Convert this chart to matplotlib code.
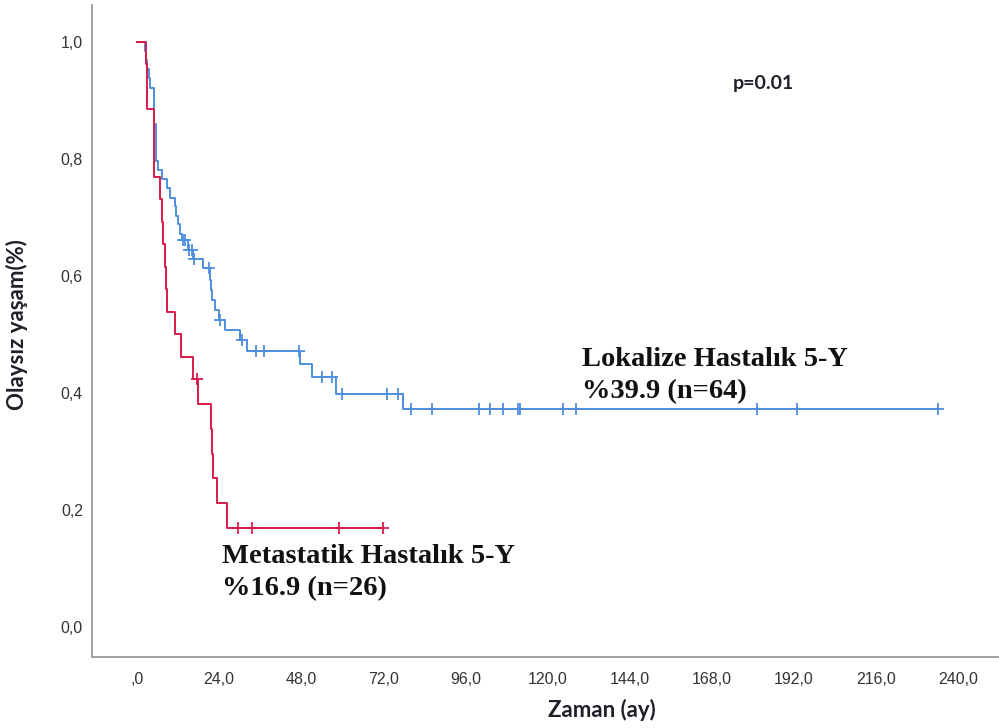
import matplotlib
matplotlib.use("Agg")
import matplotlib.pyplot as plt
import numpy as np

# ---------------- data ----------------
# Lokalize Hastalik (blue): step times (months) and survival after each step
blue_times = [0, 2.2, 2.6, 3.0, 3.4, 3.8, 5.0, 5.4, 6.2, 7.2, 8.7, 9.6, 11.1, 11.5,
              12.0, 12.6, 13.0, 15.0, 16.3, 19.4, 21.3, 21.6, 21.8, 22.8, 23.8,
              25.7, 30.1, 32.1, 47.5, 51.2, 58.2, 77.7]
blue_surv = [1.0, 0.984, 0.969, 0.953, 0.938, 0.922, 0.859, 0.797, 0.781, 0.766,
             0.750, 0.734, 0.719, 0.703, 0.688, 0.672, 0.661, 0.645, 0.629, 0.613,
             0.593, 0.576, 0.559, 0.542, 0.525, 0.508, 0.491, 0.472, 0.450, 0.428,
             0.399, 0.372]
blue_censor = [13.3, 14.0, 15.2, 16.0, 16.5, 20.9, 24.3, 30.6, 34.8, 37.2, 47.2,
               54.0, 56.9, 59.9, 73.2, 76.4, 80.1, 86.2, 100.1, 103.2, 106.9,
               111.5, 112.0, 124.6, 128.4, 181.3, 193.0, 234.2]
blue_end = 234.5

# Metastatik Hastalik (red)
red_times = [0, 2.6, 3.0, 4.8, 6.7, 7.2, 7.7, 8.2, 8.4, 8.7, 11.1, 12.8, 16.3,
             17.9, 21.5, 21.8, 22.1, 23.3, 26.4]
red_surv = [1.0, 0.962, 0.885, 0.769, 0.731, 0.692, 0.654, 0.615, 0.577, 0.538,
            0.500, 0.462, 0.423, 0.381, 0.338, 0.296, 0.254, 0.212, 0.169]
red_censor = [17.4, 29.6, 33.5, 58.9, 72.0]
red_end = 72.0

x_ticks = [0, 24, 48, 72, 96, 120, 144, 168, 192, 216, 240]
x_labels = [",0", "24,0", "48,0", "72,0", "96,0", "120,0", "144,0", "168,0",
            "192,0", "216,0", "240,0"]
y_ticks = [0.0, 0.2, 0.4, 0.6, 0.8, 1.0]
y_labels = ["0,0", "0,2", "0,4", "0,6", "0,8", "1,0"]

x_title = "Zaman (ay)"
y_title = "Olaysız yaşam(%)"
p_text = "p=0.01"
blue_label = ["Lokalize Hastalık 5-Y", "%39.9 (n=64)"]
red_label = ["Metastatik Hastalık 5-Y", "%16.9 (n=26)"]

# ---------------- figure ----------------
W, H = 999, 728
fig = plt.figure(figsize=(W / 100, H / 100), dpi=100)
ax = fig.add_axes([92 / W, 1 - 657 / H, (999 - 92) / W, (657 - 5) / H])

blue_c = "#4f8fde"
red_c = "#d81b4a"


def draw_km(times, surv, censor, end, color, z):
    t = np.append(np.asarray(times, float), end)
    s = np.append(np.asarray(surv, float), surv[-1])
    ax.step(t, s, where="post", color=color, lw=1.4, zorder=z)
    ct = np.asarray(censor, float)
    idx = np.searchsorted(np.asarray(times, float), ct, side="right") - 1
    cs = np.asarray(surv, float)[idx]
    ax.plot(ct, cs, linestyle="none", marker="+", markersize=9,
            markeredgewidth=1.3, color=color, zorder=z)


draw_km(blue_times, blue_surv, blue_censor, blue_end, blue_c, 3)
draw_km(red_times, red_surv, red_censor, red_end, red_c, 4)

ax.set_xlim(-13.2, 252.0)
ax.set_ylim(-0.0513, 1.063)

ax.set_xticks(x_ticks)
ax.set_xticklabels(x_labels)
ax.set_yticks(y_ticks)
ax.set_yticklabels(y_labels)
for lab in ax.get_xticklabels() + ax.get_yticklabels():
    lab.set_fontfamily(["Liberation Sans", "DejaVu Sans"])
    lab.set_fontsize(11.5)
    lab.set_color("#333333")
ax.tick_params(axis="x", length=0, pad=10.5)
ax.tick_params(axis="y", length=0, pad=6.5)

for side in ["top", "right"]:
    ax.spines[side].set_visible(False)
for side in ["left", "bottom"]:
    ax.spines[side].set_color("#a0a0a0")
    ax.spines[side].set_linewidth(1.4)

lab_font = dict(family=["Lato", "DejaVu Sans"], fontweight="bold", fontsize=16,
                color="#1f1f2a")
fig.text(602 / W, 1 - 710 / H, x_title, ha="center", va="center", **lab_font)
fig.text(17 / W, 1 - 325 / H, y_title, ha="center", va="center",
         rotation=90, **lab_font)

fig.text(733 / W, 1 - 83 / H, p_text, ha="left", va="center",
         family=["Lato", "DejaVu Sans"], fontweight="bold", fontsize=14,
         color="#1f1f2a")

serif = dict(family=["Liberation Serif", "DejaVu Serif"], fontweight="bold",
             fontsize=20.5, color="#111111")
fig.text(582 / W, 1 - 366 / H, blue_label[0], ha="left", va="baseline", **serif)
fig.text(582 / W, 1 - 398 / H, blue_label[1], ha="left", va="baseline", **serif)
fig.text(222 / W, 1 - 563 / H, red_label[0], ha="left", va="baseline", **serif)
fig.text(222 / W, 1 - 595 / H, red_label[1], ha="left", va="baseline", **serif)

fig.savefig("out.png", dpi=100)
